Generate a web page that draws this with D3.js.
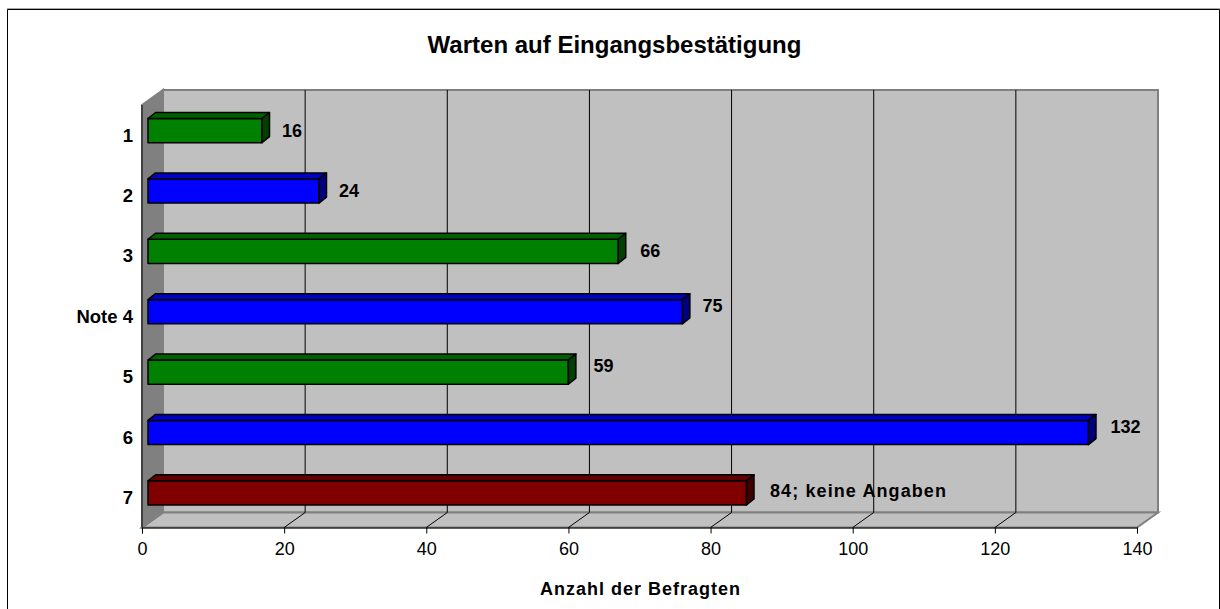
<!DOCTYPE html>
<html>
<head>
<meta charset="utf-8">
<script src="https://cdn.jsdelivr.net/npm/d3@7"></script>
<style>
    body { margin: 0; background: #fff; }
    text { font-family: "Liberation Sans", Arial, sans-serif; fill: #000; }
</style>
</head>
<body>
<div id="chart"></div>
<script>
const categories = ["1", "2", "3", "Note 4", "5", "6", "7"];
const values = [16, 24, 66, 75, 59, 132, 84];
const valueLabels = ["16", "24", "66", "75", "59", "132", "84; keine Angaben"];
const barColors = ["green", "blue", "green", "blue", "green", "blue", "red"];
const xTicks = [0, 20, 40, 60, 80, 100, 120, 140];

const fills = {
    green: { front: "#008000", top: "#006000", side: "#004000" },
    blue: { front: "#0000ff", top: "#0000c0", side: "#000080" },
    red: { front: "#800000", top: "#600000", side: "#400000" }
};

const width = 1220, height = 609;
const depthX = 21, depthY = 15;        // depth of the chart box
const barDepthX = 7.5, barDepthY = 6;  // depth of each bar
const boxTop = 105, boxBottom = 527.5;

// the labels sit a little off the bars, not the same for each one
const labelDx = [20, 20, 22, 20, 25, 22, 23.5];
const labelDy = [6.5, 6, 6, 0.5, 0, 0, 4.5];

const x = d3.scaleLinear().domain([0, 140]).range([142, 1137]);
const barX = d3.scaleLinear().domain([0, 140]).range([148, 1145.5]); // bars start inside the box
const y = d3.scaleBand().domain(categories).range([118.5, 505]).paddingInner(0.6);

const svg = d3.select("#chart").append("svg")
    .attr("width", width)
    .attr("height", height)
    .style("display", "block");

// outer frame
svg.append("path")
    .attr("d", `M7.5,${height} V9.5 H1219.5 V${height}`)
    .attr("fill", "none")
    .attr("stroke", "#000")
    .attr("stroke-width", 1);
svg.append("path")
    .attr("d", "M7,8.5 H1220")
    .attr("stroke", "#aaa")
    .attr("stroke-width", 1);

svg.append("text")
    .attr("x", 614.5).attr("y", 53)
    .attr("text-anchor", "middle")
    .attr("font-size", 24)
    .attr("font-weight", "bold")
    .text("Warten auf Eingangsbestätigung");

const x0 = x(0), x1 = x(140);

// chart box: back wall, floor, left wall
const wall = svg.append("g").attr("stroke", "#808080").attr("stroke-width", 2);
wall.append("rect")
    .attr("x", x0 + depthX).attr("y", boxTop - depthY)
    .attr("width", x1 - x0).attr("height", boxBottom - boxTop)
    .attr("fill", "#c0c0c0");
wall.append("path")
    .attr("d", `M${x0},${boxBottom} L${x0 + depthX},${boxBottom - depthY} H${x1 + depthX} L${x1},${boxBottom} Z`)
    .attr("fill", "#c0c0c0");
wall.append("path")
    .attr("d", `M${x0},${boxTop} L${x0 + depthX},${boxTop - depthY} V${boxBottom - depthY} L${x0},${boxBottom} Z`)
    .attr("fill", "#808080");

// gridlines on the wall and the floor
svg.append("g").selectAll("path")
    .data(xTicks.slice(1, -1))
    .join("path")
    .attr("d", d => `M${x(d)},${boxBottom} L${x(d) + depthX},${boxBottom - depthY} V${boxTop - depthY}`)
    .attr("fill", "none")
    .attr("stroke", "#000")
    .attr("stroke-width", 1);

// axes
const xAxis = svg.append("g")
    .attr("transform", `translate(0,${boxBottom})`)
    .call(d3.axisBottom(x).tickValues(xTicks).tickSize(6).tickPadding(9));
xAxis.selectAll("text").attr("font-size", 18).style("font-family", '"Liberation Sans", Arial, sans-serif');
xAxis.select(".domain").attr("stroke", "#000");

svg.append("path")
    .attr("d", `M${x0},${boxTop} V${boxBottom}`)
    .attr("stroke", "#000");

svg.append("g").selectAll("text")
    .data(categories)
    .join("text")
    .attr("x", 133)
    .attr("y", d => y(d) + y.bandwidth() / 2 + 11)
    .attr("text-anchor", "end")
    .attr("font-size", 18.5)
    .attr("font-weight", "bold")
    .text(d => d);

// bars
const bars = svg.append("g").selectAll("g")
    .data(categories)
    .join("g")
    .attr("stroke", "#000")
    .attr("stroke-width", 1.5)
    .attr("stroke-linejoin", "round");

const barLeft = barX(0);
const barRight = i => barX(values[i]);

bars.append("rect")
    .attr("x", barLeft)
    .attr("y", d => y(d))
    .attr("width", (d, i) => barRight(i) - barLeft)
    .attr("height", y.bandwidth())
    .attr("fill", (d, i) => fills[barColors[i]].front);
bars.append("path")
    .attr("d", (d, i) => `M${barLeft},${y(d)} l${barDepthX},${-barDepthY} H${barRight(i) + barDepthX} l${-barDepthX},${barDepthY} Z`)
    .attr("fill", (d, i) => fills[barColors[i]].top);
bars.append("path")
    .attr("d", (d, i) => `M${barRight(i)},${y(d)} l${barDepthX},${-barDepthY} v${y.bandwidth()} l${-barDepthX},${barDepthY} Z`)
    .attr("fill", (d, i) => fills[barColors[i]].side);

// value labels
svg.append("g").selectAll("text")
    .data(categories)
    .join("text")
    .attr("x", (d, i) => barRight(i) + labelDx[i])
    .attr("y", (d, i) => y(d) + y.bandwidth() / 2 + labelDy[i])
    .attr("font-size", 18)
    .attr("font-weight", "bold")
    .attr("letter-spacing", (d, i) => i === 6 ? 1.1 : 0)
    .text((d, i) => valueLabels[i]);

svg.append("text")
    .attr("x", 640.5).attr("y", 594.5)
    .attr("text-anchor", "middle")
    .attr("font-size", 18)
    .attr("font-weight", "bold")
    .attr("letter-spacing", 1)
    .text("Anzahl der Befragten");
</script>
</body>
</html>
